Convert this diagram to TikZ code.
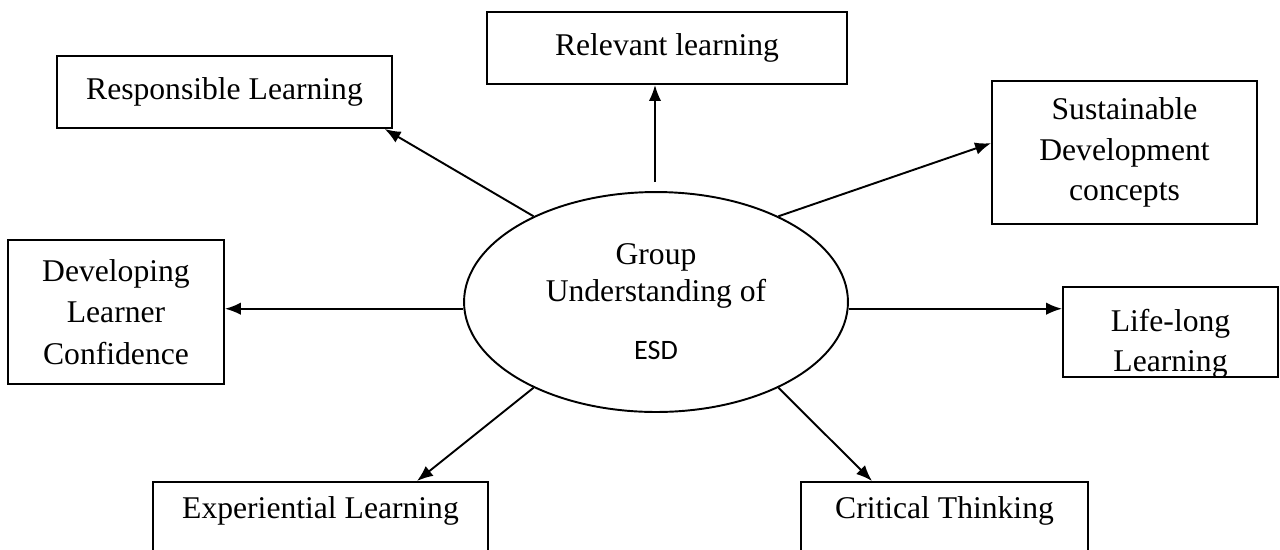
\documentclass[tikz,border=0pt]{standalone}
\usepackage{fontspec}
\setmainfont{Liberation Serif}
\setsansfont{Carlito}
\usepackage{tikz}
\usetikzlibrary{arrows.meta,shapes.geometric}

\begin{document}
\begin{tikzpicture}[x=0.02cm,y=-0.02cm,line width=1.1pt,
                    box/.style={draw,rectangle,align=center,inner sep=0pt,font=\fontsize{18}{23}\selectfont},
                    link/.style={-{Latex[length=0.32cm,width=0.25cm]}}]
                      \clip (0,0) rectangle (1280,549);
                      \node[ellipse,draw,minimum width=7.68cm,minimum height=4.4cm,inner sep=0pt,align=center,font=\fontsize{18}{21}\selectfont](esd)at(656,302){Group\\Understanding of\\[12pt]{\sffamily\fontsize{16}{16}\selectfont ESD}};
                      \node[box,minimum width=6.7cm,minimum height=1.44cm](resp)at(224.5,92){Responsible Learning};
                      \node[box,minimum width=7.2cm,minimum height=1.44cm](rel)at(667,48){Relevant learning};
                      \node[box,minimum width=5.3cm,minimum height=2.86cm](sus)at(1124.5,152.5){Sustainable\\Development\\concepts};
                      \node[box,minimum width=4.32cm,minimum height=2.88cm,font=\fontsize{18}{23.5}\selectfont](dev)at(116,312){Developing\\Learner\\Confidence};
                      \node[box,minimum width=4.3cm,minimum height=1.8cm,
                            path picture={\node[draw=none,align=center,inner sep=0pt,font=\fontsize{18}{23}\selectfont]
                              at ([yshift=-0.24cm]path picture bounding box.center){Life-long\\Learning};}](life)at(1170.5,332){};
                      \node[box,anchor=north,minimum width=6.7cm,text height=0.74cm,text depth=2cm](exp)at(320.5,481){Experiential Learning};
                      \node[box,anchor=north,minimum width=5.74cm,text height=0.74cm,text depth=2cm](crit)at(944.5,481){Critical Thinking};
                      \coordinate (up) at (655,182);
                      \draw[link] (esd.145) -- (resp.-13.5);
                      \draw[link] (up) -- (up |- rel.south);
                      \draw[link] (esd.35) -- (sus.176.8);
                      \draw[link] (esd.182.7) -- (esd.182.7 -| dev.east);
                      \draw[link] (esd.-2.7) -- (esd.-2.7 -| life.west);
                      \draw[link] (esd.215) -- ([xshift=1.93cm]exp.north);
                      \draw[link] (esd.325) -- ([xshift=-1.45cm]crit.north);
                  \end{tikzpicture}
\end{document}
